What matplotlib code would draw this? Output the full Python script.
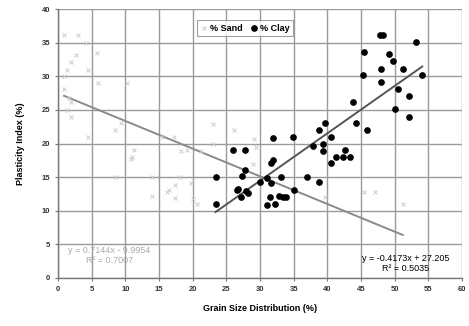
import matplotlib
matplotlib.use("Agg")
import matplotlib.pyplot as plt
import numpy as np

# % Sand vs plasticity index
sand_x = [0.9, 2.9, 4.1, 5.8, 2.7, 1.9, 1.3, 4.4, 0.9, 5.9, 10.3, 0.9, 1.6, 1.9,
          1.3, 1.9, 4.4, 8.5, 9.4, 15.4, 17.2, 18.3, 21.3, 23.0, 23.0, 11.3, 11.0,
          10.9, 8.4, 14.0, 18.1, 19.7, 17.4, 16.5, 16.2, 14.0, 17.4, 20.1, 20.6,
          19.1, 26.2, 29.1, 29.0, 31.6, 39.6, 45.5, 47.1, 51.2, 29.4]
sand_y = [36.1, 36.1, 35.0, 33.4, 33.1, 32.1, 31.0, 31.0, 30.0, 29.0, 29.0, 28.1,
          26.8, 26.1, 25.0, 24.0, 21.0, 22.0, 23.1, 21.0, 21.0, 18.9, 18.9, 22.9,
          20.0, 19.0, 18.0, 17.7, 15.0, 15.0, 15.0, 14.2, 13.8, 13.1, 12.8, 12.2,
          11.9, 11.8, 11.0, 19.0, 22.0, 20.7, 16.9, 14.1, 12.1, 12.8, 12.8, 11.0,
          19.5]

# % Clay vs plasticity index
clay_x = [23.4, 23.4, 26.0, 27.7, 27.7, 27.4, 26.6, 26.8, 27.9, 28.2, 27.2, 30.0,
          31.0, 31.7, 32.0, 32.0, 31.7, 33.1, 31.5, 31.0, 32.3, 32.8, 33.4, 33.9,
          35.1, 34.9, 37.0, 38.8, 37.8, 38.8, 39.6, 39.3, 39.3, 40.5, 41.3, 47.8,
          48.2, 53.2, 45.5, 49.2, 49.7, 47.9, 51.2, 45.3, 54.1, 47.9, 50.5, 52.2,
          43.8, 50.1, 52.2, 44.2, 45.9, 40.6, 42.6, 42.4, 43.3]
clay_y = [15.0, 11.0, 19.0, 19.0, 16.1, 15.2, 13.1, 13.3, 13.0, 12.7, 12.0, 14.3,
          14.9, 14.1, 20.8, 17.6, 17.1, 15.0, 12.0, 10.9, 11.0, 12.2, 12.0, 12.0,
          13.1, 21.0, 15.0, 14.3, 19.6, 22.0, 23.0, 20.0, 18.9, 17.1, 18.0, 36.1,
          36.1, 35.1, 33.6, 33.3, 32.2, 31.1, 31.1, 30.2, 30.2, 29.1, 28.1, 27.1,
          26.1, 25.1, 24.0, 23.0, 22.0, 21.0, 19.0, 18.0, 18.0]

# trendline labels as printed on the chart
sand_label = "y = 0.7144x - 9.9954\nR\u00b2 = 0.7007"
clay_label = "y = -0.4173x + 27.205\nR\u00b2 = 0.5035"

plt.rcParams['font.family'] = ['Liberation Sans', 'DejaVu Sans']

fig = plt.figure(figsize=(4.69, 3.26), dpi=100)
ax = fig.add_axes([58 / 469, 1 - 278 / 326, 404 / 469, 269 / 326])

# scatter points
ax.plot(sand_x, sand_y, linestyle="none", marker="x", markersize=2.8,
        markeredgewidth=0.7, color="#cccccc", label="% Sand", zorder=3)
ax.plot(clay_x, clay_y, linestyle="none", marker="o", markersize=3.8,
        color="black", label="% Clay", zorder=4)

# linear trendlines
sx = np.array(sand_x)
s_fit = np.polyfit(sx, sand_y, 1)
xs = np.array([sx.min(), sx.max()])
ax.plot(xs, np.polyval(s_fit, xs), color="#8a8a8a", linewidth=1.4, zorder=2)

cx = np.array(clay_x)
c_fit = np.polyfit(cx, clay_y, 1)
xc = np.array([cx.min(), cx.max()])
ax.plot(xc, np.polyval(c_fit, xc), color="#555555", linewidth=1.4, zorder=2)

ax.text(7.6, 3.3, sand_label, color="#aaaaaa", fontsize=6.5,
        ha="center", va="center", linespacing=1.1)
ax.text(51.6, 2.2, clay_label, color="black", fontsize=6.5,
        ha="center", va="center", linespacing=1.1)

ax.set_xlim(0, 60)
ax.set_ylim(0, 40)
ax.set_xticks(np.arange(0, 61, 5))
ax.set_yticks(np.arange(0, 41, 5))
ax.grid(True, color="#9a9a9a", linewidth=1.0)
ax.set_axisbelow(True)
for side in ["top", "right"]:
    ax.spines[side].set_visible(False)
for side in ["left", "bottom"]:
    ax.spines[side].set_color("#777777")
    ax.spines[side].set_linewidth(1.0)
ax.tick_params(labelsize=5.5, length=2, color="#777777", labelcolor="#333333")
for lab in ax.get_xticklabels() + ax.get_yticklabels():
    lab.set_fontweight("bold")

ax.set_xlabel("Grain Size Distribution (%)", fontsize=6.5, fontweight="bold",
              labelpad=8)
ax.set_ylabel("Plasticity Index (%)", fontsize=6.5, fontweight="bold",
              labelpad=12)

leg = ax.legend(loc="upper center", bbox_to_anchor=(0.463, 0.975), ncol=2,
                fontsize=6.5, frameon=True, fancybox=False, handlelength=0.8,
                handletextpad=0.3, columnspacing=0.8, borderpad=0.4)
leg.get_frame().set_edgecolor("#888888")
leg.get_frame().set_linewidth(0.8)
for t in leg.get_texts():
    t.set_fontweight("bold")

fig.savefig("out.png", dpi=100)
